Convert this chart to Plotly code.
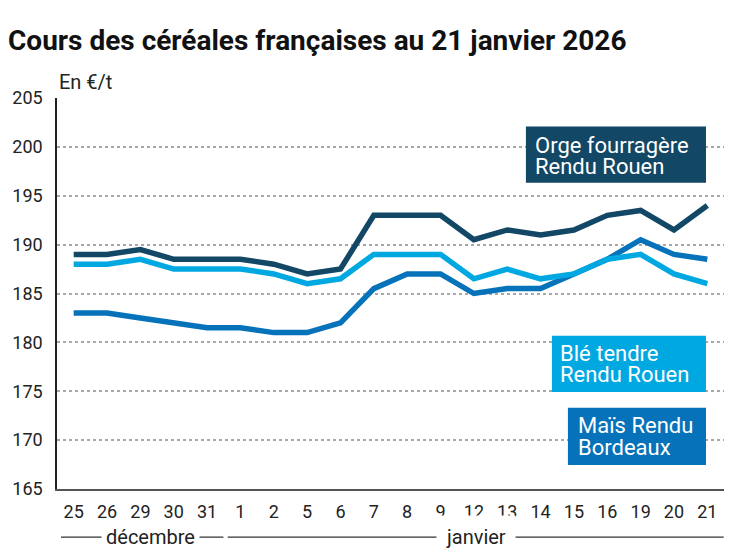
import plotly.graph_objects as go

days = ["25", "26", "29", "30", "31", "1", "2", "5", "6", "7",
        "8", "9", "12", "13", "14", "15", "16", "19", "20", "21"]
months = ["décembre", "janvier"]
month_counts = [5, 15]

orge = [189.0, 189.0, 189.5, 188.5, 188.5, 188.5, 188.0, 187.0, 187.5, 193.0,
        193.0, 193.0, 190.5, 191.5, 191.0, 191.5, 193.0, 193.5, 191.5, 194.0]
ble = [188.0, 188.0, 188.5, 187.5, 187.5, 187.5, 187.0, 186.0, 186.5, 189.0,
       189.0, 189.0, 186.5, 187.5, 186.5, 187.0, 188.5, 189.0, 187.0, 186.0]
mais = [183.0, 183.0, 182.5, 182.0, 181.5, 181.5, 181.0, 181.0, 182.0, 185.5,
        187.0, 187.0, 185.0, 185.5, 185.5, 187.0, 188.5, 190.5, 189.0, 188.5]

series_names = [["Orge fourragère", "Rendu Rouen"], ["Blé tendre", "Rendu Rouen"], ["Maïs Rendu", "Bordeaux"]]
series_colors = ["#124766", "#00a8e1", "#0572b9"]
yticks = [165, 170, 175, 180, 185, 190, 195, 200, 205]

x = list(range(len(days)))
FONT = "Roboto"

fig = go.Figure()
for vals, name, col in zip([mais, ble, orge], [series_names[2], series_names[1], series_names[0]],
                           [series_colors[2], series_colors[1], series_colors[0]]):
    fig.add_trace(go.Scatter(x=x, y=vals, mode="lines", name=" ".join(name),
                             line=dict(color=col, width=5.5), showlegend=False))

# label boxes: (lines, colour, box x0, x1 (paper), box top, bottom (y), text x (paper), line centres (y))
boxes = [
    (series_names[0], series_colors[0], 0.703, 0.973, 202.08, 196.34, 0.714, (200.18, 197.96)),
    (series_names[1], series_colors[1], 0.742, 0.973, 180.67, 174.93, 0.751, (178.83, 176.68)),
    (series_names[2], series_colors[2], 0.766, 0.973, 173.30, 167.45, 0.778, (171.50, 169.27)),
]
shapes = []
annotations = []
for lines, col, x0, x1, y0, y1, tx, ys in boxes:
    shapes.append(dict(type="rect", xref="paper", yref="y", x0=x0, x1=x1, y0=y1, y1=y0,
                       fillcolor=col, line=dict(width=0), layer="above"))
    for txt, yy in zip(lines, ys):
        annotations.append(dict(text=txt, xref="paper", yref="y", x=tx, y=yy,
                                xanchor="left", yanchor="middle", align="left", showarrow=False,
                                font=dict(family=FONT, size=22, color="white")))

# month separators
start = 0
month_y = -0.123
for m, c in zip(months, month_counts):
    end = start + c - 1
    shapes.append(dict(type="line", xref="x", yref="paper", x0=start - 0.38, x1=end + 0.49,
                       y0=month_y, y1=month_y, line=dict(color="#333333", width=1.2)))
    start = end + 1
annotations.append(dict(text=months[0], xref="x", yref="paper", x=2.29, y=month_y,
                        showarrow=False, xanchor="center", yanchor="middle",
                        bgcolor="white", borderpad=4,
                        font=dict(family=FONT, size=20, color="#222222")))
annotations.append(dict(text=months[1], xref="x", yref="paper", x=12.07, y=month_y,
                        showarrow=False, xanchor="center", yanchor="middle",
                        bgcolor="white", borderpad=9,
                        font=dict(family=FONT, size=20, color="#222222")))

annotations.append(dict(text="En €/t", xref="paper", yref="paper", x=0, y=1.041,
                        xanchor="left", yanchor="middle", showarrow=False,
                        font=dict(family=FONT, size=20, color="#222222")))

fig.update_layout(
    width=747, height=558,
    margin=dict(l=54, r=23, t=98, b=69),
    paper_bgcolor="white", plot_bgcolor="white",
    font=dict(family=FONT, size=18, color="#222222"),
    title=dict(text="<b>Cours des céréales françaises au 21 janvier 2026</b>",
               x=8 / 747, xanchor="left", xref="container",
               y=1 - 40 / 558, yanchor="middle", yref="container",
               font=dict(family=FONT, size=28, color="#111111")),
    shapes=shapes, annotations=annotations,
    xaxis=dict(tickmode="array", tickvals=x, ticktext=days, range=[-0.5, len(days) - 0.5],
               showgrid=False, zeroline=False, showline=True, linecolor="#555555", linewidth=1.5,
               ticks="", ticklabelstandoff=6,
               tickfont=dict(family=FONT, size=18, color="#222222")),
    yaxis=dict(tickmode="array", tickvals=yticks, range=[165, 205],
               showgrid=True, gridcolor="#a8a8a8", griddash="dot", gridwidth=1.5,
               zeroline=False, showline=True, linecolor="#222222", linewidth=1.5,
               ticks="", ticklabelstandoff=9,
               tickfont=dict(family=FONT, size=18, color="#222222")),
)

fig.write_html("out.html", config={"displayModeBar": False},
               post_script="document.body.style.margin='0px';")
